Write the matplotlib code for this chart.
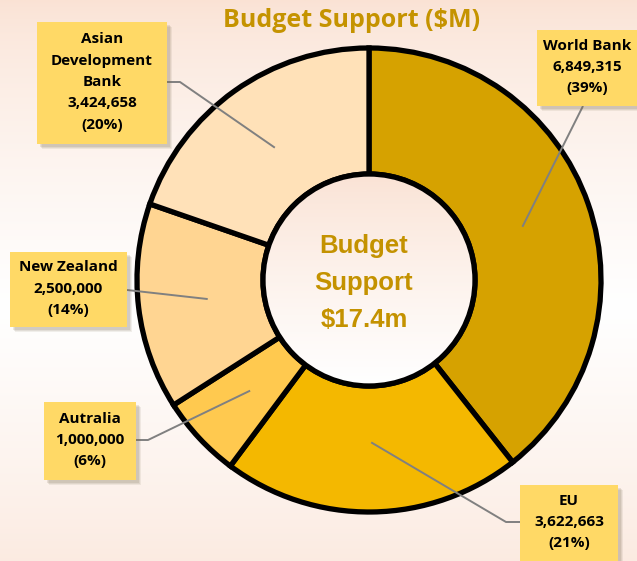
import matplotlib
matplotlib.use("Agg")
import matplotlib.pyplot as plt
import numpy as np
from matplotlib.patches import Rectangle, Circle

# ---- data ----
labels = ["World Bank", "EU", "Autralia", "New Zealand", "Asian\nDevelopment\nBank"]
values = [6849315, 3622663, 1000000, 2500000, 3424658]
pct_labels = ["39%", "21%", "6%", "14%", "20%"]
title = "Budget Support ($M)"
center_text = "Budget\nSupport\n$17.4m"

colors = ["#D6A200", "#F4B800", "#FFC94F", "#FFD592", "#FFE1B8"]

W, H = 637, 561
fig = plt.figure(figsize=(W / 100, H / 100), dpi=100)

# background gradient (peach top/bottom, white middle)
bg = fig.add_axes([0, 0, 1, 1])
bg.axis("off")
t = np.linspace(0, 1, 400)
peach = np.array([250, 226, 212]) / 255.0
white = np.array([1.0, 1.0, 1.0])
w = np.clip(1 - np.abs(t - 0.55) / 0.55, 0, 1) ** 0.7
grad = peach[None, :] * (1 - w[:, None]) + white[None, :] * w[:, None]
img = np.repeat(grad[:, None, :], 2, axis=1)
bg.imshow(img, aspect="auto", extent=[0, 1, 0, 1], origin="upper")
bg.set_xlim(0, 1); bg.set_ylim(0, 1)

ax = fig.add_axes([0, 0, 1, 1])
ax.patch.set_alpha(0)

def P(y):
    return H - y

cx, cy = 369, 280
R = 232
r_in = 106
wedges, _ = ax.pie(values, colors=colors, startangle=90, counterclock=False,
                   center=(cx, P(cy)), radius=R,
                   wedgeprops=dict(width=R - r_in, edgecolor="black", linewidth=3.8),
                   frame=True)
ax.set_xlim(0, W)
ax.set_ylim(0, H)
ax.set_aspect("auto")
ax.axis("off")

# hole gradient
hole = np.linspace(0, 1, 200)
hg = peach[None, :] * (1 - hole[:, None] ** 0.8) + white[None, :] * hole[:, None] ** 0.8
himg = np.repeat(hg[:, None, :], 2, axis=1)
im = ax.imshow(himg, extent=[cx - r_in, cx + r_in, P(cy + r_in), P(cy - r_in)],
               origin="upper", aspect="auto", zorder=1.5)
clip = Circle((cx, P(cy)), r_in, transform=ax.transData)
im.set_clip_path(clip)
ax.add_patch(Circle((cx, P(cy)), r_in, fill=False, edgecolor="black", linewidth=3.8, zorder=3))
ax.set_xlim(0, W)
ax.set_ylim(0, H)

# center text
ax.text(cx - 5, P(cy + 3), center_text, ha="center", va="center", fontsize=18.5,
        fontweight="bold", family="Liberation Sans", color="#C49200",
        linespacing=1.68, zorder=4)

# title
ax.text(352, P(20), title, ha="center", va="center", fontsize=18, fontweight="bold",
        family="Open Sans", color="#C59300", zorder=4)

# label boxes: (x0, y0, x1, y1) in pixel coords, and line path start points
boxes = [
    (537, 30, 637, 106),
    (520, 485, 618, 561),
    (44, 402, 136, 480),
    (10, 252, 127, 327),
    (37, 22, 167, 144),
]
elbows = [
    [(583, 106)],
    [(520, 522), (506, 522)],
    [(136, 440), (148, 440)],
    [(127, 290)],
    [(167, 82), (180, 82)],
]

total = sum(values)
angles = []
start = 90.0
for v in values:
    span = 360.0 * v / total
    angles.append(start - span / 2)
    start -= span

for i, (lab, v, pl) in enumerate(zip(labels, values, pct_labels)):
    x0, y0, x1, y1 = boxes[i]
    for k, (dx, dy, a) in enumerate([(5, 5, 0.10), (4, 4, 0.12), (3, 3, 0.15)]):
        ax.add_patch(Rectangle((x0 + dx, P(y1 + dy)), x1 - x0, y1 - y0,
                               facecolor="#7a6a50", alpha=a, edgecolor="none", zorder=5))
    ax.add_patch(Rectangle((x0, P(y1)), x1 - x0, y1 - y0, facecolor="#FFD966",
                           edgecolor="none", zorder=6))
    txt = f"{lab}\n{v:,}\n({pl})"
    ax.text((x0 + x1) / 2, P((y0 + y1) / 2 - 1), txt, ha="center", va="center",
            fontsize=11, fontweight="bold", family="Open Sans", color="black",
            linespacing=1.68, zorder=7)
    ang = np.deg2rad(angles[i])
    ra = 0.70 * R
    axp = cx + ra * np.cos(ang)
    ayp = cy - ra * np.sin(ang)
    pts = elbows[i] + [(axp, ayp)]
    ax.plot([p[0] for p in pts], [P(p[1]) for p in pts], color="#808080",
            linewidth=1.4, zorder=4.5, solid_capstyle="butt")

fig.savefig("out.png", dpi=100)
